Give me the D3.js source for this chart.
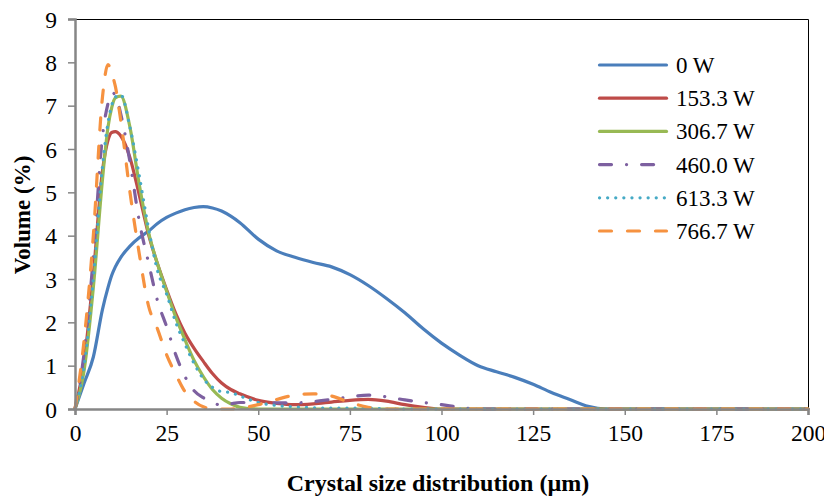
<!DOCTYPE html>
<html>
<head>
<meta charset="utf-8">
<script src="https://cdn.jsdelivr.net/npm/d3@7/dist/d3.min.js"></script>
<style>
  body { margin: 0; background: #fff; }
  text { font-family: "Liberation Serif", "Times New Roman", serif; fill: #000; }
</style>
</head>
<body>
<svg id="chart"></svg>
<script>
// crystal size (um), shared grid for every series
var sizes = [0, 2.5, 5, 7.5, 9, 10, 11, 12.5, 15, 17.5, 20, 22.5, 25, 27.5, 30, 32.5, 35, 37.5, 40, 42.5, 45, 50,
  55, 60, 65, 70, 75, 80, 85, 90, 95, 100, 105, 110, 115, 120, 125, 130, 135, 140, 145, 150, 175, 200];

var labels = ["0 W", "153.3 W", "306.7 W", "460.0 W", "613.3 W", "766.7 W"];

var vol0 = [0, 0.6, 1.2, 2.3, 2.8, 3.08, 3.28, 3.5, 3.76, 3.95, 4.1, 4.28, 4.42, 4.52, 4.6, 4.65, 4.67, 4.64, 4.57, 4.45, 4.3, 3.92,
  3.65, 3.5, 3.38, 3.28, 3.1, 2.85, 2.55, 2.22, 1.85, 1.52, 1.24, 1.0, 0.86, 0.73, 0.57, 0.38, 0.22, 0.06, 0, 0, 0, 0];
var vol153 = [0, 1.1, 3.1, 5.5, 6.2, 6.38, 6.4, 6.3, 5.8, 4.95, 4.05, 3.35, 2.75, 2.2, 1.75, 1.4, 1.1, 0.82, 0.6, 0.45, 0.35, 0.2,
  0.13, 0.1, 0.12, 0.16, 0.2, 0.22, 0.18, 0.1, 0.04, 0, 0, 0, 0, 0, 0, 0, 0, 0, 0, 0, 0, 0];
var vol306 = [0, 0.9, 2.8, 5.3, 6.5, 6.95, 7.18, 7.22, 6.5, 5.2, 4.1, 3.35, 2.72, 2.12, 1.6, 1.12, 0.75, 0.45, 0.25, 0.12, 0.04, 0,
  0, 0, 0, 0, 0, 0, 0, 0, 0, 0, 0, 0, 0, 0, 0, 0, 0, 0, 0, 0, 0, 0];
var vol460 = [0, 1.3, 3.5, 6.3, 7.05, 7.3, 7.25, 6.8, 5.7, 4.35, 3.4, 2.5, 1.9, 1.25, 0.75, 0.42, 0.26, 0.16, 0.08, 0.12, 0.15, 0.15,
  0.14, 0.14, 0.17, 0.22, 0.28, 0.32, 0.28, 0.21, 0.15, 0.1, 0.04, 0, 0, 0, 0, 0, 0, 0, 0, 0, 0, 0];
var vol613 = [0, 1.0, 3.0, 5.6, 6.6, 7.0, 7.2, 7.25, 6.5, 5.4, 4.2, 3.2, 2.65, 2.0, 1.5, 1.05, 0.7, 0.5, 0.4, 0.38, 0.3, 0.15,
  0.08, 0.05, 0.03, 0.02, 0.02, 0.02, 0, 0, 0, 0, 0, 0, 0, 0, 0, 0, 0, 0, 0, 0, 0, 0];
var vol766 = [0, 1.6, 4.0, 7.2, 7.95, 7.75, 7.45, 6.65, 5.0, 3.6, 2.4, 1.85, 1.25, 0.8, 0.4, 0.18, 0.05, 0, 0, 0, 0.02, 0.1,
  0.22, 0.32, 0.35, 0.3, 0.15, 0.04, 0, 0, 0, 0, 0, 0, 0, 0, 0, 0, 0, 0, 0, 0, 0, 0];

var xTicks = [0, 25, 50, 75, 100, 125, 150, 175, 200];
var yTicks = [0, 1, 2, 3, 4, 5, 6, 7, 8, 9];

var w = 824, h = 497;
var mLeft = 75, mRight = 808, mTop = 19, mBottom = 409;

var colors = ["#4A7EBB", "#BE4B48", "#98B954", "#7D60A0", "#46AAC5", "#F69240"];
var dashes = [null, null, null, "12,15,0.1,15", "0.1,8", "12,16"];
var allVals = [vol0, vol153, vol306, vol460, vol613, vol766];

var svg = d3.select("#chart").attr("width", w).attr("height", h);

var x = d3.scaleLinear().domain([0, 200]).range([mLeft, mRight]);
var y = d3.scaleLinear().domain([0, 9]).range([mBottom, mTop]);

// frame (top & right)
svg.append("path")
  .attr("d", "M" + mLeft + "," + (mTop + 0.5) + " H" + (mRight + 0.5) + " V" + mBottom)
  .attr("fill", "none").attr("stroke", "#000").attr("stroke-width", 1);

// series
var line = d3.line()
  .x(function (d, i) { return x(sizes[i]); })
  .y(function (d) { return y(d); })
  .curve(d3.curveMonotoneX);

allVals.forEach(function (vals, k) {
  svg.append("path")
    .attr("d", line(vals))
    .attr("fill", "none")
    .attr("stroke", colors[k])
    .attr("stroke-width", 3.2)
    .attr("stroke-linecap", "round")
    .attr("stroke-linejoin", "round")
    .attr("stroke-dasharray", dashes[k]);
});

// axes
var xAxis = svg.append("g")
  .attr("transform", "translate(0," + mBottom + ")")
  .call(d3.axisBottom(x).tickValues(xTicks).tickSize(6).tickPadding(9));
var yAxis = svg.append("g")
  .attr("transform", "translate(" + mLeft + ",0)")
  .call(d3.axisLeft(y).tickValues(yTicks).tickSize(7).tickPadding(11));

[xAxis, yAxis].forEach(function (a) {
  a.select(".domain").attr("stroke", "#868686").attr("stroke-width", 2.5);
  a.selectAll(".tick line").attr("stroke", "#868686").attr("stroke-width", 1.5);
  a.selectAll(".tick text")
    .attr("font-family", "Liberation Serif")
    .attr("font-size", 23.5)
    .attr("fill", "#000");
});
yAxis.selectAll(".tick text").attr("dy", "0.35em");

// axis titles
svg.append("text")
  .attr("x", 438)
  .attr("y", 491)
  .attr("text-anchor", "middle")
  .attr("font-size", 24)
  .attr("font-weight", "bold")
  .text("Crystal size distribution (µm)");

svg.append("text")
  .attr("transform", "translate(30,215) rotate(-90)")
  .attr("text-anchor", "middle")
  .attr("font-size", 23)
  .attr("font-weight", "bold")
  .text("Volume (%)");

// legend
var legend = svg.append("g").attr("transform", "translate(598,65)");
labels.forEach(function (lab, k) {
  var row = legend.append("g").attr("transform", "translate(0," + (k * 33.2) + ")");
  row.append("line")
    .attr("x1", 1.5).attr("x2", 68.5)
    .attr("stroke", colors[k])
    .attr("stroke-width", 3.2)
    .attr("stroke-linecap", "round")
    .attr("stroke-dasharray", dashes[k]);
  row.append("text")
    .attr("x", 78)
    .attr("dy", "0.35em")
    .attr("font-size", 23)
    .text(lab);
});
</script>
</body>
</html>
